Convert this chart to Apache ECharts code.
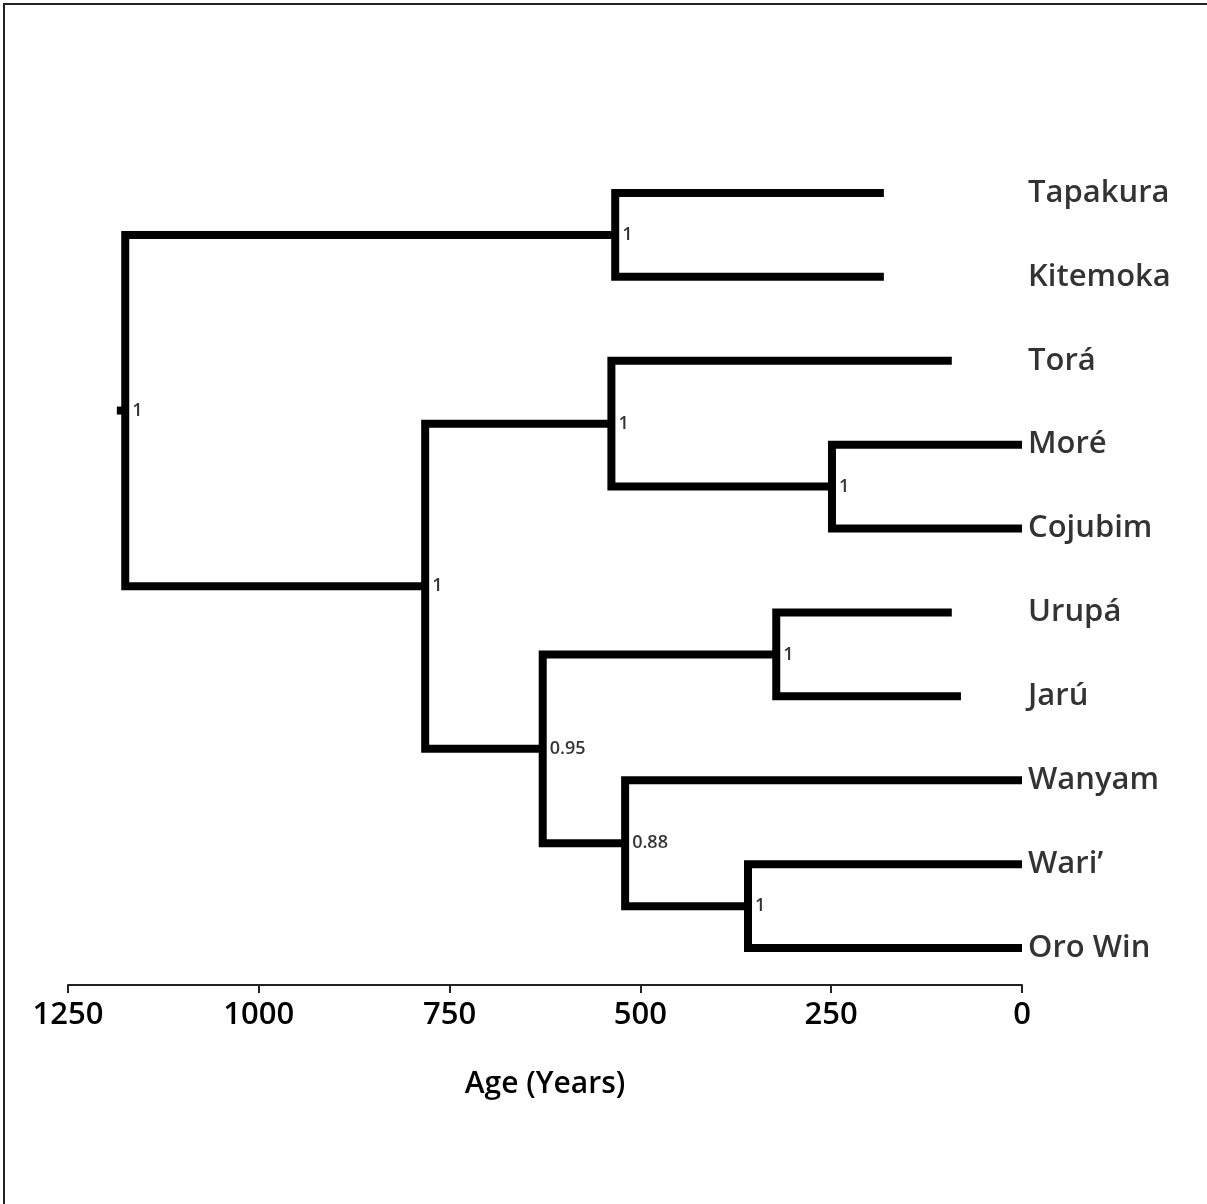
<!DOCTYPE html>
<html>
<head>
<meta charset="utf-8">
<script src="https://cdn.jsdelivr.net/npm/echarts@6/dist/echarts.min.js"></script>
<style>
html,body{margin:0;padding:0;background:#fff;}
#c{width:1207px;height:1204px;}
</style>
</head>
<body>
<div id="c"></div>
<script>
// Tips (top to bottom) and their ages (years before present)
const taxa = ['Tapakura', 'Kitemoka', 'Torá', 'Moré', 'Cojubim', 'Urupá', 'Jarú', 'Wanyam', 'Wari’', 'Oro Win'];
const tipAges = [181, 181, 92, 0, 0, 92, 80, 0, 0, 0];
// Internal nodes: children ('t' = tip index, 'n' = node index), ages, posterior support
const nodeChildren = [
  ['t0', 't1'], ['t3', 't4'], ['t2', 'n1'], ['t5', 't6'], ['t8', 't9'],
  ['t7', 'n4'], ['n3', 'n5'], ['n2', 'n6'], ['n0', 'n7']
];
const nodeAges = [533, 249, 538, 322, 359, 520, 628, 782, 1175];
const nodeSupport = ['1', '1', '1', '1', '1', '0.88', '0.95', '1', '1'];
const rootStubAge = 1186;
// Axis ticks
const tickMin = 0, tickMax = 1250, tickStep = 250;
const axisTitle = 'Age (Years)';

// ---- build geometry from the tree ----
const nodeY = [];
function refY(r) { return r[0] === 't' ? +r.slice(1) : nodeY[+r.slice(1)]; }
function refAge(r) { return r[0] === 't' ? tipAges[+r.slice(1)] : nodeAges[+r.slice(1)]; }
nodeChildren.forEach((ch, i) => { nodeY[i] = (refY(ch[0]) + refY(ch[1])) / 2; });

const branchData = nodeChildren.map((ch, i) => ({
  coords: [
    [refAge(ch[0]), refY(ch[0])],
    [nodeAges[i], refY(ch[0])],
    [nodeAges[i], refY(ch[1])],
    [refAge(ch[1]), refY(ch[1])]
  ]
}));
const rootIdx = nodeChildren.length - 1;
branchData.push({ coords: [[rootStubAge, nodeY[rootIdx]], [nodeAges[rootIdx], nodeY[rootIdx]]] });

const supportData = nodeAges.map((a, i) => ({ value: [a, nodeY[i]], name: nodeSupport[i] }));
const tipLabelData = taxa.map((t, i) => ({ value: [0, i], name: t }));

const FONT = '"Open Sans", "Noto Sans", sans-serif';
const chart = echarts.init(document.getElementById('c'), null, { renderer: 'canvas' });
chart.setOption({
  backgroundColor: '#fff',
  animation: false,
  graphic: [
    { type: 'line', shape: { x1: 3, y1: 4, x2: 1207, y2: 4 }, style: { stroke: '#222', lineWidth: 2 } },
    { type: 'line', shape: { x1: 4, y1: 4, x2: 4, y2: 1204 }, style: { stroke: '#222', lineWidth: 2 } }
  ],
  grid: { left: 68, right: 185, top: 151, bottom: 219 },
  xAxis: {
    type: 'value', inverse: true, min: tickMin, max: tickMax, interval: tickStep,
    position: 'bottom',
    axisLine: { show: true, onZero: false, lineStyle: { color: '#222', width: 2 } },
    axisTick: { show: true, length: 8, lineStyle: { color: '#222', width: 2 } },
    axisLabel: { color: '#000', fontSize: 31, fontFamily: FONT, fontWeight: 600, margin: 15,
      formatter: v => String(v) },
    splitLine: { show: false },
    name: axisTitle, nameLocation: 'middle', nameGap: 84,
    nameTextStyle: { color: '#000', fontSize: 30, fontFamily: FONT, fontWeight: 600 }
  },
  yAxis: {
    type: 'value', inverse: true, min: -0.5, max: 9.44, show: false
  },
  series: [
    {
      type: 'lines', coordinateSystem: 'cartesian2d', polyline: true,
      lineStyle: { color: '#000', width: 8, opacity: 1, cap: 'butt', join: 'miter' },
      data: branchData, silent: true, z: 3
    },
    {
      type: 'scatter', symbolSize: 0, data: supportData, silent: true, z: 4,
      label: { show: true, position: 'right', distance: 7, formatter: p => p.name,
        color: '#000', fontSize: 18, fontFamily: FONT, fontWeight: 600 }
    },
    {
      type: 'scatter', symbolSize: 0, data: tipLabelData, silent: true, z: 4,
      label: { show: true, position: 'right', distance: 6, formatter: p => p.name,
        color: '#000', fontSize: 31, fontFamily: FONT, fontWeight: 600 }
    }
  ]
});
</script>
</body>
</html>
